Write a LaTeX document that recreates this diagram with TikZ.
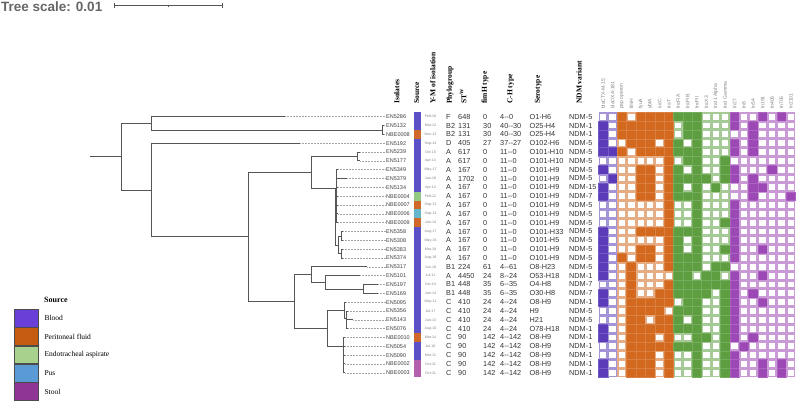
\documentclass[tikz,border=0pt]{standalone}
\usepackage{fontspec}
\setmainfont{Liberation Sans}
\newfontfamily\headfont{Liberation Serif}
\usetikzlibrary{positioning}

\definecolor{treegray}{HTML}{555555}
\definecolor{srcblood}{HTML}{5B50C8}
\definecolor{srcperi}{HTML}{D0682A}
\definecolor{srcendo}{HTML}{93C983}
\definecolor{srcpus}{HTML}{63B7C9}
\definecolor{srcstool}{HTML}{B460AE}
\definecolor{legblood}{HTML}{6A3FD7}
\definecolor{legperi}{HTML}{C55A11}
\definecolor{legendo}{HTML}{A9D18E}
\definecolor{legpus}{HTML}{5B9BD5}
\definecolor{legstool}{HTML}{8E3596}
\definecolor{genblue}{HTML}{5C3BB8}
\definecolor{genorange}{HTML}{D2691E}
\definecolor{gengreen}{HTML}{5E9E40}
\definecolor{genpurple}{HTML}{9C48B5}

\newcommand\dd{\mbox{-}\mbox{-}}

\begin{document}
\begin{tikzpicture}[x=1pt, y=-1pt,
    branch/.style={draw=treegray, line width=0.9pt},
    leader/.style={draw=gray!70, densely dotted, line width=0.5pt},
    colhead/.style={rotate=90, anchor=west, inner sep=0, font=\headfont\bfseries\fontsize{7.5}{8}\selectfont},
    genehead/.style={rotate=90, anchor=west, inner sep=0, text=gray, font=\fontsize{5}{5}\selectfont},
    isolate/.style={anchor=west, inner sep=0, text=black!75, font=\fontsize{5.5}{6}\selectfont},
    datecell/.style={inner sep=0, text=gray, font=\fontsize{3.6}{4}\selectfont},
    cell/.style={anchor=west, inner sep=0, text=black!80, font=\fontsize{7.3}{8}\selectfont},
    legbox/.style={draw=black!70, line width=0.6pt, minimum width=24pt, minimum height=17.8pt, inner sep=0},
    leglab/.style={anchor=west, inner sep=0, font=\headfont\fontsize{7.5}{8}\selectfont}
]
\useasboundingbox (0,0) rectangle (796,401);

% Tree scale
\node (scaletxt) [anchor=west, inner sep=0, text=black!60, font=\bfseries\fontsize{13.5}{13.5}\selectfont] at (1,7) {Tree scale: 0.01};
\coordinate (sb0) at (114.3,5.7);
\coordinate (sb1) at (222.3,5.7);
\coordinate (sbm) at (168.3,5.7);
\draw[treegray, line width=0.8pt] (sb0) -- (sb1);
\draw[treegray, line width=0.8pt] ([yshift=2.5pt]sb0) -- ([yshift=-2.5pt]sb0);
\draw[treegray, line width=0.8pt] ([yshift=2.5pt]sb1) -- ([yshift=-2.5pt]sb1);
\draw[treegray, line width=0.6pt] (sbm) -- ([yshift=-1.6pt]sbm);

% Column headers
\node[colhead] (hiso) at (396.7,104) {Isolates};
\node[colhead] (hsrc) at (416.7,104) {Source};
\node[colhead] (hym) at (432.7,104) {Y-M of isolation};
\node[colhead] (hpg) at (450,104) {Phylogroup};
\node[colhead] (hst) at (463.3,104) {ST\textsuperscript{W}};
\node[colhead] (hfim) at (485,104) {fimH type};
\node[colhead] (hch) at (510.7,104) {C-H type};
\node[colhead] (hsero) at (538.3,104) {Serotype};
\node[colhead] (hndm) at (579,104) {NDM variant};

\foreach \g [count=\c from 0] in {blaCTX-M-15, blaOXA-181, pap operon, fimH, fyuA, ybtA, iucC, traT, IncFIA, IncFIB, IncFII, IncX3, IncI1 Alpha, IncI Gamma, In27, In8, In54, In191, In406, In705, In2101}
  \node[genehead] (gh\c) at (603.2+9.38*\c,109) {\g};

% Table rows
\foreach \iso/\ym/\pg/\st/\fh/\ch/\sero/\ndm/\src [count=\r from 0] in {
  EN5286/Feb-16/F/648/0/4\dd0/O1-H6/NDM-5/srcblood,
  EN5132/Mar-13/B2/131/30/40\dd30/O25-H4/NDM-1/srcblood,
  NBE0008/Nov-13/B2/131/30/40\dd30/O25-H4/NDM-1/srcperi,
  EN5192/Sep-14/D/405/27/37\dd27/O102-H6/NDM-5/srcblood,
  EN5239/Oct-15/A/617/0/11\dd0/O101-H10/NDM-5/srcblood,
  EN5177/Apr-14/A/617/0/11\dd0/O101-H10/NDM-5/srcblood,
  EN5349/May-17/A/167/0/11\dd0/O101-H9/NDM-5/srcblood,
  EN5379/Jan-19/A/1702/0/11\dd0/O101-H9/NDM-5/srcblood,
  EN5134/Apr-13/A/167/0/11\dd0/O101-H9/NDM-15/srcblood,
  NBE0004/Feb-12/A/167/0/11\dd0/O101-H9/NDM-7/srcendo,
  NBE0007/Sep-13/A/167/0/11\dd0/O101-H9/NDM-5/srcperi,
  NBE0006/Sep-13/A/167/0/11\dd0/O101-H9/NDM-5/srcpus,
  NBE0009/Jan-14/A/167/0/11\dd0/O101-H9/NDM-5/srcperi,
  EN5358/Aug-17/A/167/0/11\dd0/O101-H33/NDM-5/srcblood,
  EN5308/May-16/A/167/0/11\dd0/O101-H5/NDM-5/srcblood,
  EN5383/Mar-19/A/167/0/11\dd0/O101-H9/NDM-5/srcblood,
  EN5374/Aug-18/A/167/0/11\dd0/O101-H9/NDM-5/srcblood,
  EN5317/Jun-16/B1/224/61/4\dd61/O8-H23/NDM-5/srcblood,
  EN5101/Jul-11/A/4450/24/8\dd24/O53-H18/NDM-1/srcblood,
  EN5197/Oct-14/B1/448/35/6\dd35/O4-H8/NDM-7/srcblood,
  EN5169/Jan-14/B1/448/35/6\dd35/O30-H8/NDM-7/srcblood,
  EN5095/May-11/C/410/24/4\dd24/O8-H9/NDM-1/srcblood,
  EN5356/Jul-17/C/410/24/4\dd24/H9/NDM-5/srcblood,
  EN5143/Jun-13/C/410/24/4\dd24/H21/NDM-5/srcblood,
  EN5076/Aug-10/C/410/24/4\dd24/O78-H18/NDM-1/srcblood,
  NBE0010/Mar-14/C/90/142/4\dd142/O8-H9/NDM-1/srcperi,
  EN5054/Jul-10/C/90/142/4\dd142/O8-H9/NDM-1/srcblood,
  EN5090/Mar-11/C/90/142/4\dd142/O8-H9/NDM-1/srcblood,
  NBE0002/Oct-11/C/90/142/4\dd142/O8-H9/NDM-1/srcstool,
  NBE0003/Oct-11/C/90/142/4\dd142/O8-H9/NDM-1/srcstool}{
  \pgfmathsetmacro\yy{116.7+8.83*\r}
  \fill[\src] (413.5,\yy-4.415) rectangle (420.5,\yy+4.415);
  \node[isolate] (iso\r) at (386,\yy) {\iso};
  \node[datecell] (ym\r) at (430.5,\yy) {\ym};
  \node[cell] (pg\r) at (446,\yy) {\pg};
  \node[cell] (st\r) at (458,\yy) {\st};
  \node[cell] (fh\r) at (483,\yy) {\fh};
  \node[cell] (ch\r) at (500,\yy) {\ch};
  \node[cell] (sero\r) at (529.5,\yy) {\sero};
  \node[cell] (ndm\r) at (569,\yy) {\ndm};
}

% Leaf tips and leaders
\foreach \tx [count=\r from 0] in {285,384,384,300,360,360,338,347,338,338,338,338,338,343,343,343,343,367,360,378,378,346,348,353,348,345,345,345,345,345}{
  \coordinate (l\r) at (\tx,116.7+8.83*\r);
  \draw[leader] (l\r) -- (iso\r.west);
}

% Inner nodes of the tree
\coordinate (rs) at (90,156.7);
\coordinate (root) at (121,156.7);
\coordinate (nA) at (151,123.3);
\coordinate (nA2) at (382,130);
\coordinate (nB) at (151,190);
\coordinate (nC) at (248,236.7);
\coordinate (nD) at (311.7,172.3);
\coordinate (nD1) at (357,156.4);
\coordinate (nK) at (335.5,188.3);
\coordinate (nG1) at (336.5,196);
\coordinate (nG2) at (338,245);
\coordinate (nG3) at (341,236);
\coordinate (nG4) at (341,253.6);
\coordinate (nE) at (294,301);
\coordinate (nF) at (311.7,274.3);
\coordinate (nF2) at (325,282.3);
\coordinate (nF3) at (363,289);
\coordinate (nH) at (327.7,328.3);
\coordinate (nH1) at (344.3,310);
\coordinate (nH3) at (346.5,318);
\coordinate (nH2) at (343.3,346);

\draw[branch] (rs) -- (root);
\foreach \p/\q in {root/nA, root/nB, nA/l0, nA/nA2, nA2/l1, nA2/l2, nB/l3, nB/nC,
    nC/nD, nC/nE, nD/nD1, nD/nK, nD1/l4, nD1/l5, nK/nG1, nK/nG2,
    nG1/l6, nG1/l7, nG1/l8, nG1/l9, nG1/l10, nG1/l11, nG1/l12,
    nG2/nG3, nG2/nG4, nG3/l13, nG3/l14, nG4/l15, nG4/l16,
    nE/nF, nE/nH, nF/l17, nF/nF2, nF2/l18, nF2/nF3, nF3/l19, nF3/l20,
    nH/nH1, nH/nH2, nH1/l21, nH1/nH3, nH3/l22, nH3/l23, nH3/l24,
    nH2/l25, nH2/l26, nH2/l27, nH2/l28, nH2/l29}
  \draw[branch] (\p) |- (\q);

% Gene presence matrix
\foreach \bits [count=\r from 0] in {
  {0,0,1,0,1,1,1,1,1,1,1,0,0,0,1,0,0,1,0,1,0},
  {1,0,1,1,1,1,1,1,0,1,1,0,0,0,1,0,1,0,0,0,0},
  {1,0,1,1,1,1,1,1,0,1,1,0,0,0,0,0,1,0,0,0,0},
  {1,0,0,1,1,1,0,1,1,0,1,0,0,0,1,0,1,0,0,0,0},
  {1,1,1,0,1,1,1,1,1,1,1,0,0,0,1,0,1,0,0,0,0},
  {0,0,0,0,0,0,0,1,0,1,1,0,0,1,0,0,0,0,0,0,0},
  {1,0,0,0,1,1,0,1,1,0,1,0,0,1,1,0,0,0,1,0,0},
  {0,1,0,0,1,1,0,1,1,1,1,1,0,1,1,0,1,0,0,0,0},
  {1,0,0,0,1,1,0,1,1,0,1,0,1,0,0,0,1,1,0,0,0},
  {1,0,0,0,1,1,0,1,1,1,1,0,0,0,0,0,1,0,0,0,1},
  {0,0,0,0,0,0,0,1,0,0,1,0,0,0,1,0,0,0,0,0,0},
  {0,0,0,0,0,0,0,1,0,0,1,0,0,0,1,0,0,0,0,0,0},
  {0,0,0,0,0,0,0,1,0,0,1,0,0,1,1,0,0,0,0,0,0},
  {1,0,0,0,1,1,1,1,1,1,1,0,0,0,1,0,0,0,0,0,0},
  {1,0,0,0,0,0,0,1,1,0,1,0,0,0,1,0,0,0,0,0,0},
  {1,0,0,0,1,1,0,1,1,0,1,0,0,1,1,0,0,1,0,0,0},
  {1,0,1,0,1,1,0,1,1,1,1,0,0,0,1,0,0,0,0,0,0},
  {1,0,0,1,0,0,0,1,1,1,1,0,1,1,0,0,0,0,0,0,0},
  {1,0,0,1,0,0,0,0,1,1,0,1,1,0,1,0,0,1,0,0,0},
  {0,0,0,1,0,0,0,1,1,1,1,1,1,1,1,0,0,0,0,0,0},
  {1,0,0,1,0,0,1,1,1,1,1,1,0,1,1,0,1,0,0,0,0},
  {1,0,0,1,1,1,1,1,0,1,1,0,0,1,1,0,0,1,0,0,0},
  {0,0,0,1,1,1,1,0,1,1,1,0,0,1,1,0,0,0,0,0,0},
  {0,0,0,1,1,0,1,1,1,0,1,0,0,1,1,0,0,0,0,0,0},
  {1,0,0,1,1,1,1,1,1,1,1,0,0,1,1,0,0,0,0,0,0},
  {1,0,0,1,1,1,0,1,0,0,1,1,0,1,1,0,1,0,0,0,0},
  {0,0,0,1,1,1,1,1,1,1,1,0,0,1,0,1,0,0,0,0,0},
  {0,0,0,1,1,1,0,1,0,0,1,0,0,1,1,0,0,0,0,0,0},
  {1,0,0,1,1,1,0,1,0,0,1,0,0,1,1,0,0,1,0,1,0},
  {1,0,0,1,1,1,0,1,0,0,1,0,0,1,1,0,0,1,0,1,0}}{
  \foreach \v [count=\c from 0] in \bits {
    \pgfmathsetmacro\cx{598.5+9.38*\c}
    \pgfmathsetmacro\cy{112.3+8.83*\r}
    \ifnum\c<2 \def\gc{genblue}\else\ifnum\c<8 \def\gc{genorange}\else\ifnum\c<14 \def\gc{gengreen}\else\def\gc{genpurple}\fi\fi\fi
    \ifnum\v=1
      \filldraw[fill=\gc, draw=\gc!85!white, line width=0.4pt] (\cx,\cy) rectangle ++(9.38,8.83);
    \else
      \draw[draw=\gc!55!white, line width=1.5pt, fill=white] (\cx+0.75,\cy+0.75) rectangle ++(7.88,7.33);
    \fi
  }
}

% Legend
\node (legtitle) [anchor=west, inner sep=0, font=\headfont\bfseries\fontsize{8}{9}\selectfont] at (44,300) {Source};
\node[legbox, fill=legblood] (lbblood) at (26,318) {};
\node[legbox, fill=legperi, below=0pt of lbblood] (lbperi) {};
\node[legbox, fill=legendo, below=0pt of lbperi] (lbendo) {};
\node[legbox, fill=legpus, below=0pt of lbendo] (lbpus) {};
\node[legbox, fill=legstool, below=0pt of lbpus] (lbstool) {};
\node[leglab, right=6pt of lbblood] (llblood) {Blood};
\node[leglab, right=6pt of lbperi] (llperi) {Peritoneal fluid};
\node[leglab, right=6pt of lbendo] (llendo) {Endotracheal aspirate};
\node[leglab, right=6pt of lbpus] (llpus) {Pus};
\node[leglab, right=6pt of lbstool] (llstool) {Stool};

\end{tikzpicture}
\end{document}
